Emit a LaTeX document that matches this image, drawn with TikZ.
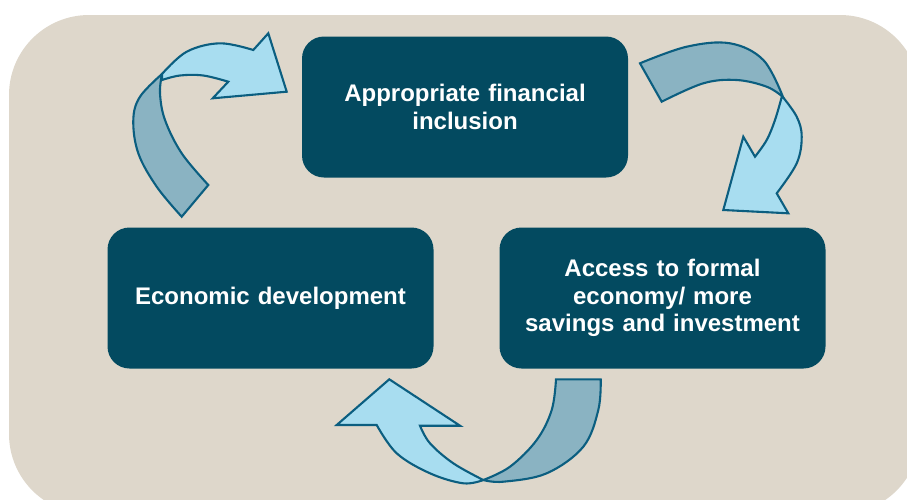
\documentclass[tikz,border=0pt]{standalone}
\usepackage{fontspec}
\setmainfont{Liberation Sans}
\definecolor{panel}{HTML}{DED7CB}
\definecolor{boxfill}{HTML}{034A60}
\definecolor{arrowlight}{HTML}{A8DDF0}
\definecolor{arrowdark}{HTML}{8AB3C2}
\definecolor{arrowline}{HTML}{0B5E80}
\tikzset{
  stagebox/.style={draw=none, fill=boxfill, rounded corners=22pt,
    minimum width=326pt, minimum height=141pt, text width=300pt, align=center,
    text=white, font=\bfseries\fontsize{24}{27.5}\selectfont},
  ribbonfront/.style={fill=arrowlight, draw=arrowline, line width=2.1pt, line join=miter},
  ribbonback/.style={fill=arrowdark, draw=arrowline, line width=2.1pt, line join=miter},
}
\begin{document}
\begin{tikzpicture}[x=1pt, y=-1pt]
\useasboundingbox (0,0) rectangle (907,499);
% beige panel, clipped by the page on the right and bottom
\fill[panel, rounded corners=80pt] (9,15) rectangle (920,514);

% the three stages
\node[stagebox] (inclusion) at (465,107) {Appropriate financial\\inclusion};
\node[stagebox] (econdev) at (270.5,298) {Economic development};
\node[stagebox] (access) at (662.5,298) {Access to formal\\economy/ more\\savings and investment};

% curved arrow: Economic development -> Appropriate financial inclusion
\draw[ribbonfront] (162,74)
  -- plot[smooth, tension=0.6] coordinates {(162,74) (186.7,51.7) (220,43.3) (253.3,50)}
  -- (268.3,33.3) -- (286.7,91.7) -- (212.7,98.3) -- (228.3,81.7)
  -- plot[smooth, tension=0.6] coordinates {(228.3,81.7) (203.3,75.5) (180,75.5) (162,80)}
  -- cycle;
\draw[ribbonback] (181.7,216.7) -- (208.3,185)
  -- plot[smooth, tension=0.6] coordinates {(208.3,185) (181.7,153.3) (165,120) (160,93.3) (162,74)}
  -- plot[smooth, tension=0.6] coordinates {(162,74) (140,96.7) (133.3,120) (138.3,153.3) (156.7,186.7) (181.7,216.7)}
  -- cycle;

% curved arrow: Appropriate financial inclusion -> Access to formal economy
\draw[ribbonback] (640,63.3) -- (661.7,101.7)
  -- plot[smooth, tension=0.6] coordinates {(661.7,101.7) (703.3,83.3) (736.7,80) (766.7,86.7) (783,97)}
  -- plot[smooth, tension=0.6] coordinates {(783,97) (763.3,60) (730,43.3) (686.7,46.7) (640,63.3)}
  -- cycle;
\draw[ribbonfront] (782,96)
  -- plot[smooth, tension=0.6] coordinates {(782,96) (796.7,116.7) (801.7,136.7) (796.7,163.3) (776.7,193.3)}
  -- (788.3,213.3) -- (723.3,210) -- (743.3,136.7) -- (755,156.7)
  -- plot[smooth, tension=0.6] coordinates {(755,156.7) (766.7,140) (775,120) (782,96)}
  -- cycle;

% curved arrow: Access to formal economy -> Economic development
\draw[ribbonback] (556,379.3) -- (600.7,379.3)
  -- plot[smooth, tension=0.6] coordinates {(600.7,379.3) (598.3,410) (583.3,446.7) (546.7,473.3) (503.3,481.7) (483.3,480)}
  -- plot[smooth, tension=0.6] coordinates {(483.3,480) (510,466.7) (536.7,440) (551.7,410) (556,379.3)}
  -- cycle;
\draw[ribbonfront] (483.3,480)
  -- plot[smooth, tension=0.6] coordinates {(483.3,480) (463.3,483.3) (430,473.3) (396.7,453.3) (376.7,425)}
  -- (336.7,425) -- (389.3,379.3) -- (460,425.7) -- (420,425.7)
  -- plot[smooth, tension=0.6] coordinates {(420,425.7) (430,443.3) (453.3,463.3) (483.3,480)}
  -- cycle;
\end{tikzpicture}
\end{document}
